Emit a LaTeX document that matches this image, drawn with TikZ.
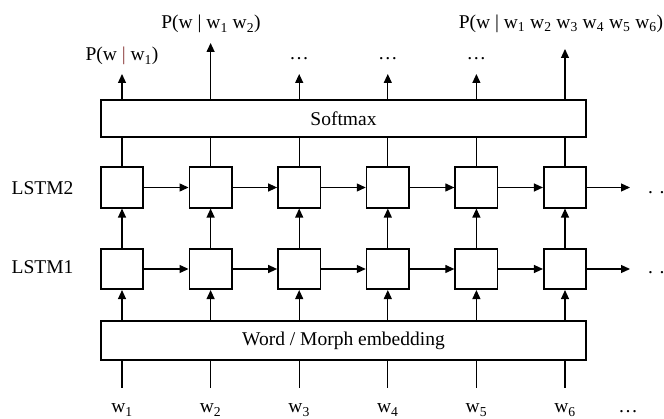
\documentclass[tikz,border=0pt]{standalone}
\usepackage{fontspec}
\setmainfont{Liberation Serif}
\usetikzlibrary{arrows.meta}
\definecolor{barred}{RGB}{140,60,60}
\begin{document}
\begin{tikzpicture}[x=1pt,y=-1pt,
  lbl/.style={font=\fontsize{19.5}{23}\selectfont, inner sep=0pt},
  cell/.style={draw, line width=1.6pt, minimum width=42.5pt, minimum height=40.5pt, inner sep=0pt},
  bar/.style={draw, line width=1.6pt, minimum width=485.5pt, inner sep=0pt, font=\fontsize{19.5}{23}\selectfont},
  arr/.style={line width=1.2pt, -{Triangle[length=9pt,width=8pt]}},
  ln/.style={line width=1.2pt}]
\useasboundingbox (0,0) rectangle (664,419);
% bars
\node[bar, minimum height=37pt] (sm) at (343.5,118.75) {Softmax};
\node[bar, minimum height=39.2pt] (emb) at (343.5,340.4) {Word / Morph embedding};
% row labels
\node[lbl, anchor=base west] (l2) at (11.5,195) {LSTM2};
\node[lbl, anchor=base west] (l1) at (11.5,274) {LSTM1};
% cells and vertical connectors
\foreach \i/\x/\t in {1/122/74,2/210.6/43,3/299.2/74,4/387.8/74,5/476.4/74,6/565/49}{
  \node[cell] (b\i) at (\x,187.5) {};
  \node[cell] (a\i) at (\x,269) {};
  \coordinate (in\i) at (\x,388);
  \coordinate (o\i) at (\x,\t);
  \node[lbl, anchor=base] (w\i) at (\x,413) {w\textsubscript{\i}};
  \draw[ln] (in\i) -- (in\i |- emb.south);
  \draw[arr] (in\i |- emb.north) -- (a\i.south);
  \draw[arr] (a\i.north) -- (b\i.south);
  \draw[ln] (b\i.north) -- (b\i.north |- sm.south);
  \draw[arr] (b\i.north |- sm.north) -- (o\i);
}
% horizontal connectors
\foreach \i/\j in {1/2,2/3,3/4,4/5,5/6}{
  \draw[arr] (a\i.east) -- (a\j.west);
  \draw[arr] (b\i.east) -- (b\j.west);
}
\coordinate (ea) at (630,269);
\coordinate (eb) at (630,187.5);
\draw[arr] (a6.east) -- (ea);
\draw[arr] (b6.east) -- (eb);
\node[lbl, anchor=base west] (da) at (648,274) {. .};
\node[lbl, anchor=base west] (db) at (648,194) {. .};
% output labels
\node[lbl, anchor=base] (p1) at (122,61) {P(w {\color{barred}|} w\textsubscript{1})};
\node[lbl, anchor=base] (p2) at (211,29) {P(w | w\textsubscript{1} w\textsubscript{2})};
\node[lbl, anchor=base] (d3) at (299.2,60) {\dots};
\node[lbl, anchor=base] (d4) at (387.8,60) {\dots};
\node[lbl, anchor=base] (d5) at (476.4,60) {\dots};
\node[lbl, anchor=base] (p6) at (561,28.5) {P(w | w\textsubscript{1} w\textsubscript{2} w\textsubscript{3} w\textsubscript{4} w\textsubscript{5} w\textsubscript{6})};
\node[lbl, anchor=base] (dw) at (628,413) {\dots};
\end{tikzpicture}
\end{document}
